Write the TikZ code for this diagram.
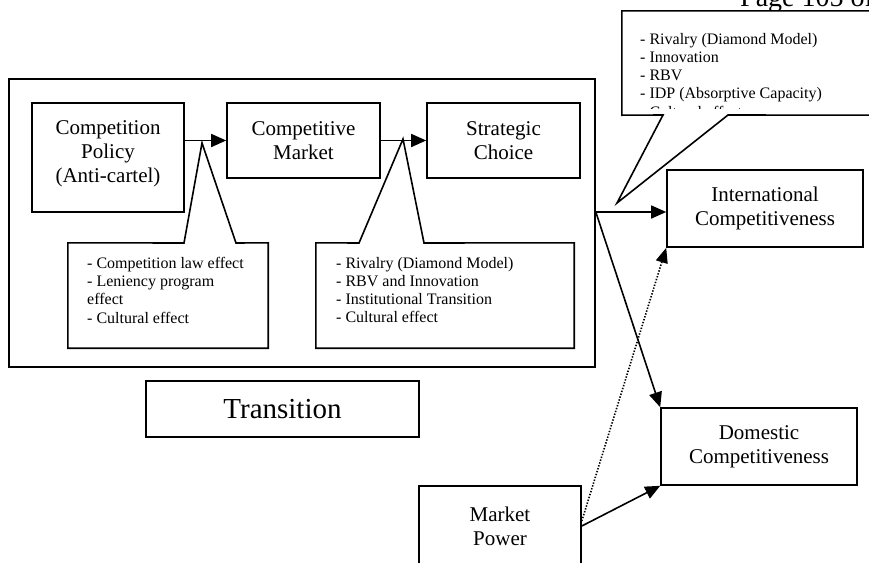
\documentclass[tikz,border=0pt]{standalone}
\usepackage{fontspec}
\setmainfont{Liberation Serif}
\usetikzlibrary{arrows.meta}
\begin{document}
\begin{tikzpicture}[x=1pt,y=-1pt,
  box/.style={draw, line width=1.6pt, inner sep=0pt, align=center, font=\fontsize{21}{24}\selectfont},
  plain/.style={draw, line width=1.6pt, inner sep=0pt},
  holder/.style={inner sep=0pt},
  boxtext/.style={inner sep=0pt, align=center, font=\fontsize{21}{24}\selectfont},
  listtext/.style={inner sep=0pt, align=left, font=\fontsize{16}{18.2}\selectfont},
  arr/.style={line width=1.6pt, -{Triangle[length=15pt,width=13pt]}},
  dotarr/.style={line width=1.6pt, dash pattern=on 1.4pt off 1.6pt, -{Triangle[length=15pt,width=12pt]}},
  callout/.style={draw, fill=white, line width=1.6pt, line join=miter}]
\useasboundingbox (0,0) rectangle (869,562);
\clip (0,0) rectangle (869,562);

% page header (clipped by the picture's edge, as in the reference)
\node[anchor=base west, inner sep=0pt, font=\fontsize{28}{30}\selectfont] (page) at (740,6) {Page 105 of};

% transition frame and its boxes
\node[plain, minimum width=586pt, minimum height=288pt] (outer) at (302,223) {};
\node[plain, minimum width=152pt, minimum height=109pt] (cp) at (108,157.5) {};
\node[boxtext] (cpt) at (108,154) {Competition\\Policy\\(Anti-cartel)};
\node[box, minimum width=153pt, minimum height=75pt] (cm) at (303.5,140.5) {Competitive\\Market};
\node[box, minimum width=153pt, minimum height=75pt] (sc) at (503.5,140.5) {Strategic\\Choice};

\node[box, minimum width=273pt, minimum height=56pt, font=\fontsize{29}{32}\selectfont] (tr) at (282.5,409) {Transition};

% outcome boxes
\node[box, minimum width=196pt, minimum height=77pt] (ic) at (765,208.5) {International\\Competitiveness};
\node[box, minimum width=196pt, minimum height=77pt] (dc) at (759,446.5) {Domestic\\Competitiveness};
\node[box, minimum width=162pt, minimum height=80pt] (mp) at (500,526) {Market\\Power};

% connectors
\draw[arr] (cp.east |- cm.west) -- (cm.west);
\draw[arr] (cm.east) -- (sc.west);
\coordinate (split) at (outer.east |- 0,212);
\draw[arr] (split) -- (ic.west |- split);
\draw[arr] (split) -- (dc.north west);
\draw[arr] (mp.east) -- (dc.south west);
\draw[dotarr] ([yshift=5pt]mp.east) -- (ic.south west);

% callout 1
\node[holder, minimum width=200pt, minimum height=105pt] (c1) at (168,295.5) {};
\coordinate (tip1) at (202,143);
\coordinate (b1a) at (184,243);
\coordinate (b1b) at (236,243);
\draw[callout] (c1.north west) -- (b1a) -- (tip1) -- (b1b) -- (c1.north east) -- (c1.south east) -- (c1.south west) -- cycle;
\node[listtext, anchor=north west] (t1) at (87,257) {- Competition law effect\\- Leniency program\\effect\\- Cultural effect};

% callout 2
\node[holder, minimum width=258pt, minimum height=105pt] (c2) at (445,295.5) {};
\coordinate (tip2) at (403,139);
\coordinate (b2a) at (359,243);
\coordinate (b2b) at (424,243);
\draw[callout] (c2.north west) -- (b2a) -- (tip2) -- (b2b) -- (c2.north east) -- (c2.south east) -- (c2.south west) -- cycle;
\node[listtext, anchor=north west] (t2) at (336,257) {- Rivalry (Diamond Model)\\- RBV and Innovation\\- Institutional Transition\\- Cultural effect};

% callout 3 (top right)
\node[holder, minimum width=263pt, minimum height=104pt] (c3) at (753.5,63) {};
\coordinate (tip3) at (617,203);
\coordinate (b3a) at (663,115);
\coordinate (b3b) at (728,115);
\draw[callout] (c3.north west) -- (c3.north east) -- (c3.south east) -- (b3b) -- (tip3) -- (b3a) -- (c3.south west) -- cycle;
\begin{scope}
  \clip (c3.north west) rectangle ([yshift=7pt]c3.south east);
  \node[listtext, anchor=north west] (t3) at (640,33) {- Rivalry (Diamond Model)\\- Innovation\\- RBV\\- IDP (Absorptive Capacity)\\- Cultural effect};
\end{scope}
\end{tikzpicture}
\end{document}
